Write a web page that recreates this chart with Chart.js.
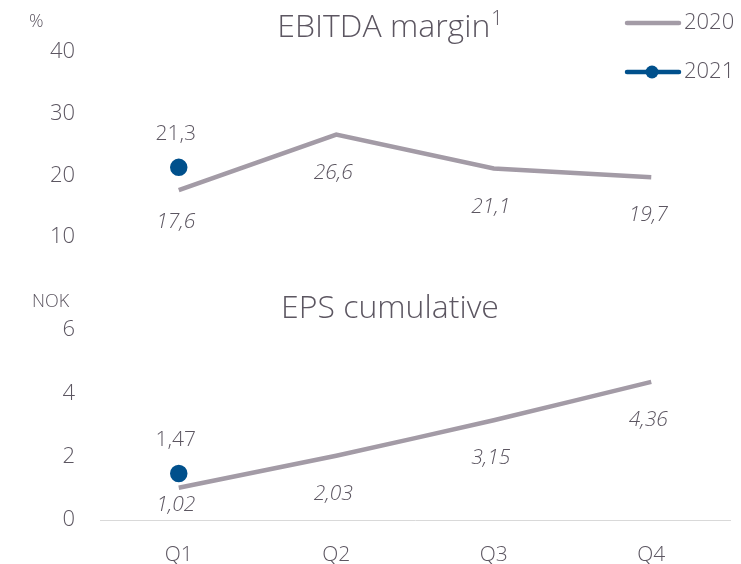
<!DOCTYPE html>
<html>
<head>
<meta charset="utf-8">
<script src="https://cdn.jsdelivr.net/npm/chart.js@4/dist/chart.umd.min.js"></script>
<style>
  body { margin: 0; background: #fff; }
  .wrap { position: relative; width: 741px; height: 564px; }
  canvas { position: absolute; left: 0; }
  #top { top: 0; }
  #bottom { top: 280px; }
</style>
</head>
<body>
<div class="wrap">
  <canvas id="top" width="741" height="280"></canvas>
  <canvas id="bottom" width="741" height="284"></canvas>
</div>
<script>
// quarters
var quarters = ['Q1', 'Q2', 'Q3', 'Q4'];

// EBITDA margin, %
var ebitda2020 = [17.6, 26.6, 21.1, 19.7];
var ebitda2021 = [21.3, null, null, null];
var ebitdaTicks = [10, 20, 30, 40];

// EPS cumulative, NOK
var eps2020 = [1.02, 2.03, 3.15, 4.36];
var eps2021 = [1.47, null, null, null];
var epsTicks = [0, 2, 4, 6];

var grey = '#a39ba6';
var blue = '#00508c';
var txt = '#5c5661';
var FONT = '"Open Sans", sans-serif';

function fmt(v, d) {
  return v.toFixed(d).replace('.', ',');
}

// value labels: 2020 below the line, 2021 above the dot
var valueLabels = {
  id: 'valueLabels',
  afterDatasetsDraw: function(chart, args, opts) {
    var ctx = chart.ctx;
    ctx.save();
    ctx.fillStyle = txt;
    ctx.textAlign = 'center';
    ctx.textBaseline = 'middle';
    chart.data.datasets.forEach(function(ds, i) {
      var meta = chart.getDatasetMeta(i);
      meta.data.forEach(function(pt, j) {
        var v = ds.data[j];
        if (v == null) return;
        var y;
        if (i === 0) {
          ctx.font = 'italic 300 21px ' + FONT;
          y = Math.min(pt.y + 38, chart.chartArea.bottom - 15);
        } else {
          ctx.font = '300 21px ' + FONT;
          y = pt.y - 33;
        }
        ctx.fillText(fmt(v, opts.decimals), pt.x - 3, y);
      });
    });
    ctx.restore();
  }
};

// title (with optional superscript) and unit text
var panelText = {
  id: 'panelText',
  afterDraw: function(chart, args, opts) {
    var ctx = chart.ctx;
    ctx.save();
    ctx.fillStyle = txt;
    ctx.textBaseline = 'middle';
    ctx.textAlign = 'left';
    ctx.font = '300 32px ' + FONT;
    var w = ctx.measureText(opts.title).width;
    var sw = 0;
    if (opts.sup) {
      ctx.font = '300 20px ' + FONT;
      sw = ctx.measureText(opts.sup).width + 1;
    }
    var x0 = 390 - (w + sw) / 2;
    ctx.font = '300 32px ' + FONT;
    ctx.fillText(opts.title, x0, opts.titleY);
    if (opts.sup) {
      ctx.font = '300 20px ' + FONT;
      ctx.fillText(opts.sup, x0 + w + 1, opts.titleY - 9);
    }
    ctx.font = '300 18px ' + FONT;
    ctx.fillText(opts.unit, opts.unitX, opts.unitY);
    ctx.restore();
  }
};

// legend drawn at the top right
var sideLegend = {
  id: 'sideLegend',
  afterDraw: function(chart) {
    var ctx = chart.ctx;
    ctx.save();
    chart.data.datasets.forEach(function(ds, i) {
      var y = 23 + i * 49;
      ctx.strokeStyle = ds.borderColor;
      ctx.lineWidth = 4.5;
      ctx.lineCap = 'round';
      ctx.beginPath();
      ctx.moveTo(627, y);
      ctx.lineTo(679, y);
      ctx.stroke();
      if (ds.pointRadius > 0) {
        ctx.fillStyle = ds.borderColor;
        ctx.beginPath();
        ctx.arc(652, y, 6.5, 0, Math.PI * 2);
        ctx.fill();
      }
      ctx.fillStyle = txt;
      ctx.font = '300 22px ' + FONT;
      ctx.textBaseline = 'middle';
      ctx.textAlign = 'left';
      ctx.fillText(ds.label, 684, y);
    });
    ctx.restore();
  }
};

function makeChart(id, s2020, s2021, ticks, cfg) {
  var plugins = [valueLabels, panelText];
  if (cfg.legend) plugins.push(sideLegend);
  return new Chart(document.getElementById(id), {
    type: 'line',
    data: {
      labels: quarters,
      datasets: [
        { label: '2020', data: s2020, borderColor: grey, backgroundColor: grey,
          borderWidth: 4.5, pointRadius: 0, tension: cfg.tension },
        { label: '2021', data: s2021, borderColor: blue, backgroundColor: blue,
          borderWidth: 4.5, pointRadius: 6.5, pointHoverRadius: 6.5 }
      ]
    },
    plugins: plugins,
    options: {
      responsive: false,
      animation: false,
      layout: { padding: { top: cfg.padTop, bottom: cfg.padBottom, right: 1, left: 0 } },
      plugins: {
        legend: { display: false },
        tooltip: { enabled: false },
        valueLabels: { decimals: cfg.decimals },
        panelText: { title: cfg.title, sup: cfg.sup, titleY: cfg.titleY,
                     unit: cfg.unit, unitX: cfg.unitX, unitY: cfg.unitY }
      },
      scales: {
        x: {
          display: cfg.showX,
          offset: true,
          afterFit: function(scale) { if (cfg.showX) scale.height = 44; },
          grid: { display: false, drawTicks: false },
          border: { display: true, color: '#d9d9d9', width: 1 },
          ticks: { color: txt, font: { family: FONT, size: 21, weight: 300 }, padding: 22 }
        },
        y: {
          min: ticks[0],
          max: ticks[ticks.length - 1],
          afterFit: function(scale) { scale.width = 100; },
          afterBuildTicks: function(scale) {
            scale.ticks = ticks.map(function(v) { return { value: v }; });
          },
          grid: { display: false, drawTicks: false },
          border: { display: false },
          ticks: { color: txt, font: { family: FONT, size: 22, weight: 300 }, padding: 25 }
        }
      }
    }
  });
}

makeChart('top', ebitda2020, ebitda2021, ebitdaTicks, {
  legend: true, showX: false, padTop: 52, padBottom: 43, decimals: 1, tension: 0,
  title: 'EBITDA margin', sup: '1', titleY: 28, unit: '%', unitX: 29, unitY: 22
});

makeChart('bottom', eps2020, eps2021, epsTicks, {
  legend: false, showX: true, padTop: 50, padBottom: 0, decimals: 2, tension: 0.15,
  title: 'EPS cumulative', sup: '', titleY: 29, unit: 'NOK', unitX: 32, unitY: 22
});
</script>
</body>
</html>
